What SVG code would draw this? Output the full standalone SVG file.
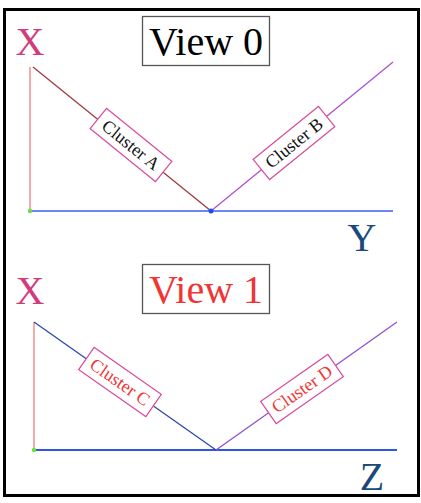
<svg xmlns="http://www.w3.org/2000/svg" width="421" height="503" viewBox="0 0 421 503">
<style>
.title{font-family:'Liberation Serif','DejaVu Serif',serif;font-size:40px;text-anchor:middle}
.axis{font-family:'Liberation Serif','DejaVu Serif',serif;font-size:40px;text-anchor:middle}
.clab{font-family:'Liberation Serif','DejaVu Serif',serif;font-size:18px;text-anchor:middle;dominant-baseline:central}
.cbox{fill:#fff;stroke:#d84a9c;stroke-width:1.2}
.tbox{fill:#fff;stroke:#555;stroke-width:1.3}
</style>
<rect x="0" y="0" width="421" height="503" fill="#fff"/>
<rect x="4.5" y="9.5" width="414" height="486" fill="#fff" stroke="#000" stroke-width="3"/>
<g id="connectors">
  <line x1="30" y1="67" x2="30" y2="211" stroke="#f07070" stroke-width="1.2"/>
  <line x1="30" y1="211" x2="393" y2="211" stroke="#3a5ff0" stroke-width="1.5"/>
  <line x1="33" y1="67" x2="211" y2="211" stroke="#a03a40" stroke-width="1.3"/>
  <line x1="211" y1="211" x2="393" y2="62" stroke="#b050d0" stroke-width="1.3"/>
  <line x1="34" y1="322" x2="34" y2="450" stroke="#f07070" stroke-width="1.2"/>
  <line x1="34" y1="450" x2="397" y2="450" stroke="#2f55e8" stroke-width="2"/>
  <line x1="34" y1="322" x2="216" y2="450" stroke="#2a48b0" stroke-width="1.3"/>
  <line x1="216" y1="450" x2="397" y2="322" stroke="#9050d0" stroke-width="1.3"/>
  <circle cx="30" cy="211" r="2.2" fill="#66e040"/>
  <circle cx="211" cy="211" r="2.5" fill="#1a50f0"/>
  <circle cx="34" cy="450" r="2.2" fill="#66e040"/>
</g>
<g id="view0">
  <rect class="tbox" x="142.5" y="16.5" width="127" height="49"/>
  <text class="title" x="206" y="55" fill="#000">View 0</text>
</g>
<g id="x0"><text class="axis" x="30" y="55" fill="#d03c7c">X</text></g>
<g id="y0"><text class="axis" x="362" y="251" fill="#1a4a7c">Y</text></g>
<g id="clusterA" transform="translate(131,145) rotate(39)">
  <rect class="cbox" x="-42" y="-13" width="84" height="26"/>
  <text class="clab" x="0" y="0" fill="#111">Cluster A</text>
</g>
<g id="clusterB" transform="translate(294,143) rotate(-39)">
  <rect class="cbox" x="-42" y="-13" width="84" height="26"/>
  <text class="clab" x="0" y="0" fill="#111">Cluster B</text>
</g>
<g id="view1">
  <rect class="tbox" x="142.5" y="264.5" width="127" height="49"/>
  <text class="title" x="206" y="303" fill="#f03535">View 1</text>
</g>
<g id="x1"><text class="axis" x="30" y="304" fill="#d03c7c">X</text></g>
<g id="z1"><text class="axis" x="372" y="490" fill="#1a4a7c">Z</text></g>
<g id="clusterC" transform="translate(120,382) rotate(35)">
  <rect class="cbox" x="-41" y="-13.5" width="82" height="27"/>
  <text class="clab" x="0" y="0" fill="#f03535">Cluster C</text>
</g>
<g id="clusterD" transform="translate(302,389) rotate(-35)">
  <rect class="cbox" x="-41" y="-13.5" width="82" height="27"/>
  <text class="clab" x="0" y="0" fill="#f03535">Cluster D</text>
</g>
</svg>
